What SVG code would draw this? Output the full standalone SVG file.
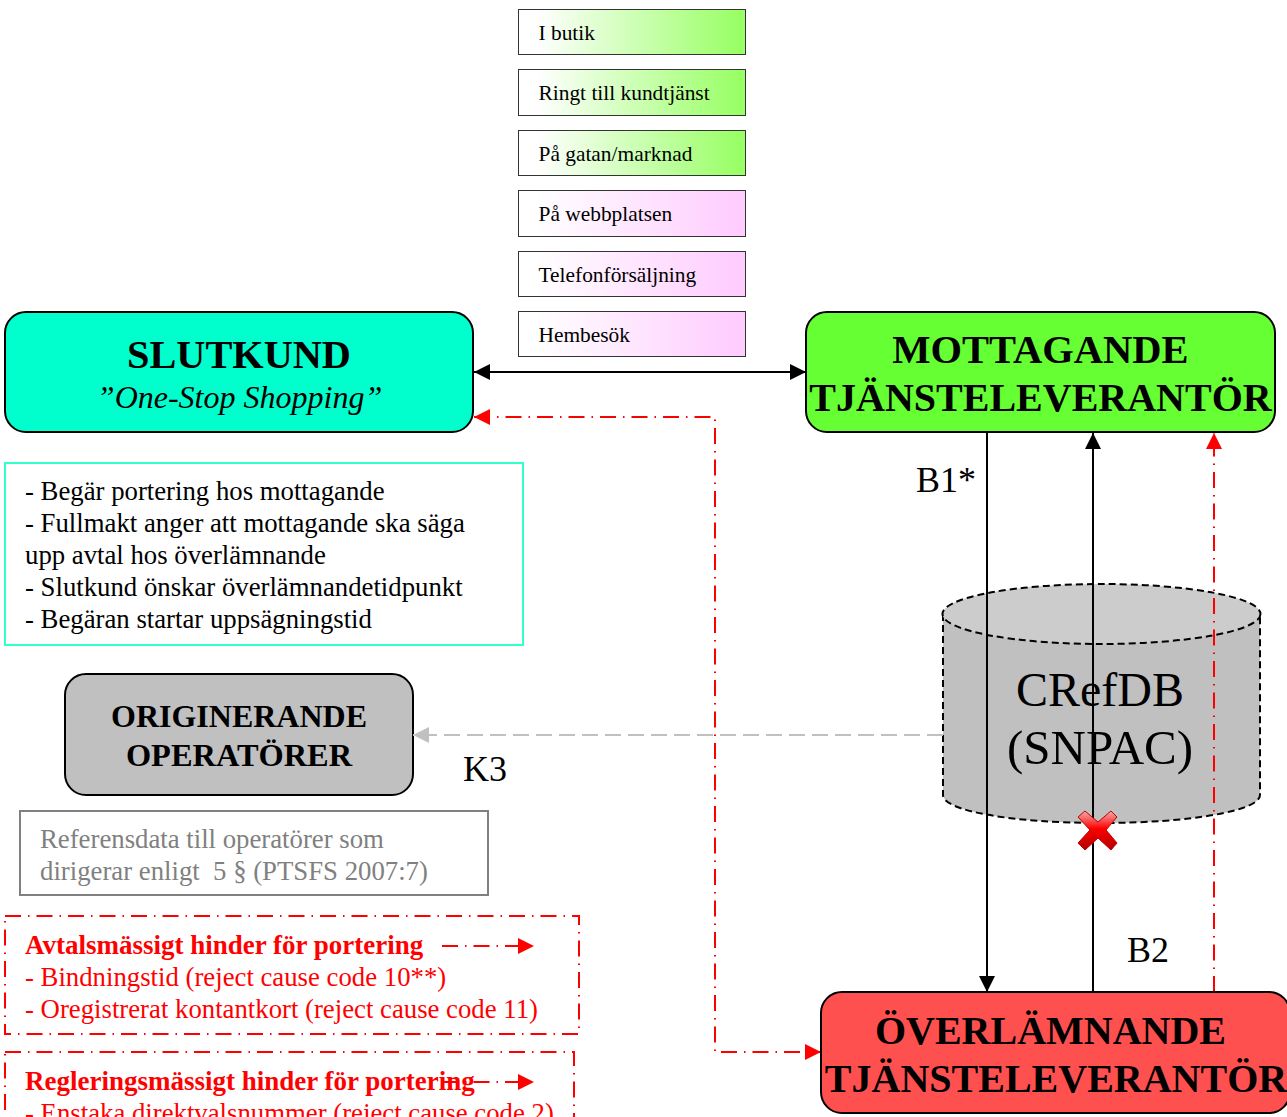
<svg xmlns="http://www.w3.org/2000/svg" width="1287" height="1117" viewBox="0 0 1287 1117">
<style>
text{font-family:"Liberation Serif","Times New Roman",serif;fill:#000}
.ch{font-size:21.4px}
.b{font-weight:bold}
.t24{font-size:26.75px}
.tb{font-size:27px;font-weight:bold}
.red{fill:#f00}
.grey{fill:#808080}
.rb{fill:none;stroke:#f00;stroke-width:2;stroke-dasharray:16 7 1.500 7}
.rl{fill:none;stroke:#f00;stroke-width:2;stroke-dasharray:16 7 1.500 7}
.bl{fill:none;stroke:#000;stroke-width:2}
.node{stroke:#000;stroke-width:2}
.chb{stroke:#333;stroke-width:1}
.cyl{stroke:#000;stroke-width:2;stroke-dasharray:7 4}
</style>
<defs>
<linearGradient id="gg"><stop offset="0.08" stop-color="#fff"/><stop offset="0.97" stop-color="#99ff66"/></linearGradient>
<linearGradient id="gp"><stop offset="0.08" stop-color="#fff"/><stop offset="0.97" stop-color="#ffccff"/></linearGradient>
<linearGradient id="xg" x1="0" y1="0" x2="0" y2="1"><stop offset="0" stop-color="#f2b0b0"/><stop offset="0.45" stop-color="#ff0000"/><stop offset="1" stop-color="#b00000"/></linearGradient>
<marker id="ab" markerUnits="userSpaceOnUse" markerWidth="16" markerHeight="16" refX="16" refY="8" orient="auto-start-reverse"><path d="M0 0L16 8L0 16Z" fill="#000"/></marker>
<marker id="ar" markerUnits="userSpaceOnUse" markerWidth="16" markerHeight="16" refX="16" refY="8" orient="auto-start-reverse"><path d="M0 0L16 8L0 16Z" fill="#f00"/></marker>
<marker id="ag" markerUnits="userSpaceOnUse" markerWidth="16" markerHeight="16" refX="16" refY="8" orient="auto-start-reverse"><path d="M0 0L16 8L0 16Z" fill="#c0c0c0"/></marker>
</defs>

<g id="channel-butik"><rect class="chb" x="518.500" y="9.500" width="227" height="45" fill="url(#gg)"/><text class="ch" x="538.500" y="40">I butik</text></g>
<g id="channel-ringt"><rect class="chb" x="518.500" y="69.500" width="227" height="46" fill="url(#gg)"/><text class="ch" x="538.500" y="100">Ringt till kundtjänst</text></g>
<g id="channel-gatan"><rect class="chb" x="518.500" y="130.500" width="227" height="45" fill="url(#gg)"/><text class="ch" x="538.500" y="161">På gatan/marknad</text></g>
<g id="channel-webb"><rect class="chb" x="518.500" y="190.500" width="227" height="46" fill="url(#gp)"/><text class="ch" x="538.500" y="221">På webbplatsen</text></g>
<g id="channel-telefon"><rect class="chb" x="518.500" y="251.500" width="227" height="45" fill="url(#gp)"/><text class="ch" x="538.500" y="282">Telefonförsäljning</text></g>
<g id="channel-hembesok"><rect class="chb" x="518.500" y="311.500" width="227" height="45" fill="url(#gp)"/><text class="ch" x="538.500" y="342">Hembesök</text></g>

<g id="slutkund"><rect class="node" x="5" y="312" width="468" height="120" rx="21" fill="#00ffcc"/>
<text class="b" x="239" y="368" font-size="40.300" text-anchor="middle">SLUTKUND</text>
<text x="239.500" y="408" font-size="32" font-style="italic" text-anchor="middle">”One-Stop Shopping”</text></g>

<g id="mottagande"><rect class="node" x="806" y="312" width="469" height="120" rx="21" fill="#66ff33"/>
<text class="b" x="1040.500" y="363" font-size="40.500" text-anchor="middle">MOTTAGANDE</text>
<text class="b" x="1040.500" y="411" font-size="40" text-anchor="middle">TJÄNSTELEVERANTÖR</text></g>

<g id="slutkund-info"><rect x="5" y="463" width="518" height="182" fill="#fff" stroke="#33ffcc" stroke-width="2"/>
<text class="t24" x="25" y="499.500">- Begär portering hos mottagande</text>
<text class="t24" x="25" y="531.500">- Fullmakt anger att mottagande ska säga</text>
<text class="t24" x="25" y="563.500">upp avtal hos överlämnande</text>
<text class="t24" x="25" y="595.500">- Slutkund önskar överlämnandetidpunkt</text>
<text class="t24" x="25" y="627.500">- Begäran startar uppsägningstid</text></g>

<g id="originerande"><rect class="node" x="65" y="674" width="348" height="121" rx="21" fill="#c0c0c0"/>
<text class="b" x="239" y="727" font-size="32" text-anchor="middle">ORIGINERANDE</text>
<text class="b" x="239" y="766" font-size="32.400" text-anchor="middle">OPERATÖRER</text></g>

<g id="referensdata"><rect x="20" y="811" width="468" height="84" fill="#fff" stroke="#808080" stroke-width="2"/>
<text class="t24 grey" x="40" y="847.500">Referensdata till operatörer som</text>
<text class="t24 grey" x="40" y="879.500" xml:space="preserve">dirigerar enligt  5 § (PTSFS 2007:7)</text></g>

<g id="avtalsmassigt"><rect class="rb" x="5" y="916" width="574" height="118"/>
<text class="tb red" x="25" y="953.500">Avtalsmässigt hinder för portering</text>
<text class="t24 red" x="25" y="985.500">- Bindningstid (reject cause code 10**)</text>
<text class="t24 red" x="25" y="1017.500">- Oregistrerat kontantkort (reject cause code 11)</text>
<path class="rl" d="M442 946H534" marker-end="url(#ar)"/></g>

<g id="regleringsmassigt"><rect class="rb" x="5" y="1052" width="569" height="90"/>
<text class="tb red" x="25" y="1089.500">Regleringsmässigt hinder för portering</text>
<text class="t24 red" x="25" y="1121.500">- Enstaka direktvalsnummer (reject cause code 2)</text>
<path class="rl" d="M442 1082H534" marker-end="url(#ar)"/></g>

<g id="crefdb">
<path d="M943 614V795C943 811 1013 823 1101 823S1260 811 1260 795V614" fill="#c0c0c0" class="cyl"/>
<ellipse cx="1101.500" cy="614" rx="159" ry="30" fill="#cccccc" class="cyl"/>
<text x="1100" y="706" font-size="48" text-anchor="middle">CRefDB</text>
<text x="1100" y="764" font-size="49" text-anchor="middle">(SNPAC)</text>
</g>

<g id="connectors">
<path class="bl" d="M474 372H806" marker-start="url(#ab)" marker-end="url(#ab)"/>
<path class="rl" d="M474 417H715V1052H821" marker-start="url(#ar)" marker-end="url(#ar)"/>
<path class="bl" d="M987 432V992" marker-end="url(#ab)"/>
<path class="bl" d="M1093 992V433" marker-end="url(#ab)"/>
<path class="rl" d="M1214 992V433" marker-end="url(#ar)"/>
<path d="M943 735H413" fill="none" stroke="#c0c0c0" stroke-width="2" stroke-dasharray="16 7" marker-end="url(#ag)"/>
</g>

<g id="labels">
<text x="916" y="492" font-size="36">B1*</text>
<text x="1127" y="962" font-size="36">B2</text>
<text x="463" y="781" font-size="36">K3</text>
</g>

<g id="overlamnande"><rect class="node" x="821" y="992" width="469" height="121" rx="21" fill="#ff5050"/>
<text class="b" x="1050.500" y="1044" font-size="40" text-anchor="middle">ÖVERLÄMNANDE</text>
<text class="b" x="1056" y="1092" font-size="40" text-anchor="middle">TJÄNSTELEVERANTÖR</text></g>

<g id="blocked">
<path d="M1085 811L1098 822L1111 811L1117 817L1106 830L1117 843L1111 850L1098 838L1085 850L1078 843L1090 830L1078 817Z" fill="url(#xg)" stroke="#c00000" stroke-width="1" stroke-linejoin="round"/>
</g>
</svg>
